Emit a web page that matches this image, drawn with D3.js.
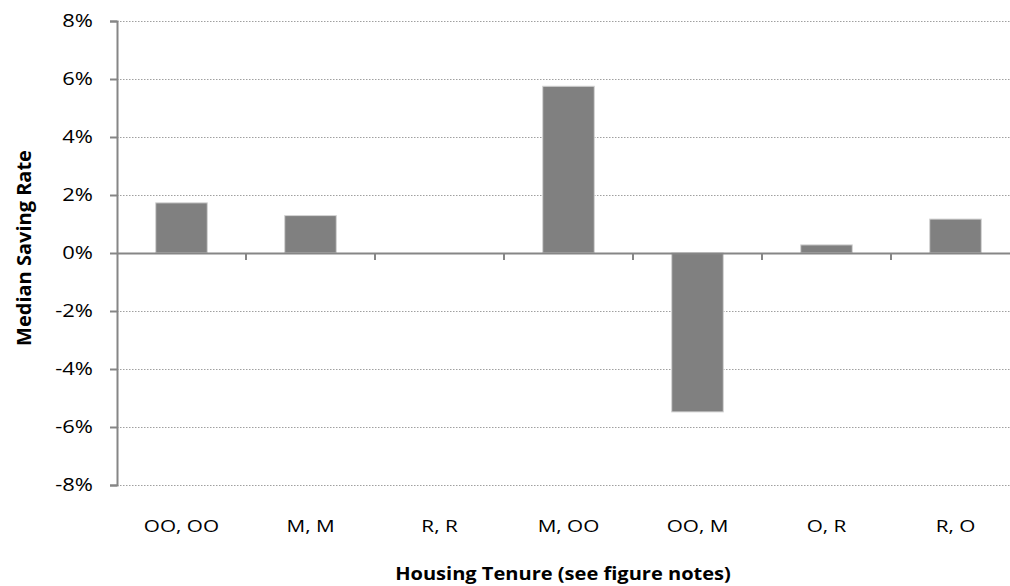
<!DOCTYPE html>
<html>
<head>
<meta charset="utf-8">
<script src="https://cdn.jsdelivr.net/npm/d3@7"></script>
<style>
  body { margin: 0; background: #fff; }
  svg text { font-family: "Open Sans", sans-serif; fill: #000; }
</style>
</head>
<body>
<svg id="chart" width="1010" height="586"></svg>
<script>
// housing tenure pairs and their median saving rates (%)
const categories = ['OO, OO', 'M, M', 'R, R', 'M, OO', 'OO, M', 'O, R', 'R, O'];
const savingRate = [1.73, 1.29, 0, 5.75, -5.48, 0.28, 1.17];
const yTicks = [-8, -6, -4, -2, 0, 2, 4, 6, 8];

const svg = d3.select('#chart');
const plotLeft = 117, plotRight = 1020, plotTop = 21, plotBottom = 485;
// the source picture is stretched sideways, so text gets a horizontal scale
const stretch = 1.22;

const x = d3.scaleBand()
    .domain(categories)
    .range([plotLeft, plotRight])
    .paddingInner(0.6)
    .paddingOuter(0.3);
const y = d3.scaleLinear().domain([-8, 8]).range([plotBottom, plotTop]);
const step = x.step();
const edgeOffset = x.paddingOuter() * step;

// dotted gridlines
svg.append('g').selectAll('line')
    .data(yTicks)
    .join('line')
    .attr('x1', plotLeft).attr('x2', plotRight)
    .attr('y1', d => y(d) + 0.5).attr('y2', d => y(d) + 0.5)
    .attr('stroke', '#a0a0a0')
    .attr('stroke-width', 1)
    .attr('stroke-dasharray', '1.5,1.5');

// bars
svg.append('g').selectAll('rect')
    .data(savingRate)
    .join('rect')
    .attr('x', (d, i) => x(categories[i]))
    .attr('width', x.bandwidth())
    .attr('y', d => y(Math.max(0, d)))
    .attr('height', d => Math.abs(y(d) - y(0)))
    .attr('fill', '#808080')
    .attr('stroke', '#d4d4d4')
    .attr('stroke-width', 1);

// y axis
const yAxis = svg.append('g')
    .attr('transform', `translate(${plotLeft},0)`)
    .call(d3.axisLeft(y).tickValues(yTicks).tickSize(7).tickPadding(17)
        .tickFormat(d => d + '%'));
yAxis.select('.domain').attr('stroke', '#868686').attr('stroke-width', 2);
yAxis.selectAll('.tick line').attr('stroke', '#868686').attr('stroke-width', 2);
yAxis.selectAll('.tick text')
    .attr('x', null)
    .attr('transform', `translate(-24,0) scale(${stretch},1)`)
    .style('font-size', '18px');

// zero line with category boundary ticks
svg.append('line')
    .attr('x1', plotLeft).attr('x2', plotRight)
    .attr('y1', y(0) + 0.5).attr('y2', y(0) + 0.5)
    .attr('stroke', '#868686').attr('stroke-width', 2);
svg.append('g').selectAll('line')
    .data(categories.slice(1))
    .join('line')
    .attr('x1', d => x(d) - edgeOffset)
    .attr('x2', d => x(d) - edgeOffset)
    .attr('y1', y(0)).attr('y2', y(0) + 7)
    .attr('stroke', '#868686').attr('stroke-width', 2);

// category labels
svg.append('g').selectAll('text')
    .data(categories)
    .join('text')
    .attr('transform', d => `translate(${x(d) + x.bandwidth() / 2},532) scale(${stretch},1)`)
    .attr('text-anchor', 'middle')
    .style('font-size', '17px')
    .text(d => d);

// axis titles
svg.append('text')
    .attr('transform', `translate(563,580) scale(1.18,1)`)
    .attr('text-anchor', 'middle')
    .style('font-size', '17px').style('font-weight', 'bold')
    .text('Housing Tenure (see figure notes)');

svg.append('text')
    .attr('transform', 'translate(31,248) rotate(-90)')
    .attr('text-anchor', 'middle')
    .style('font-size', '20px').style('font-weight', 'bold')
    .text('Median Saving Rate');
</script>
</body>
</html>
